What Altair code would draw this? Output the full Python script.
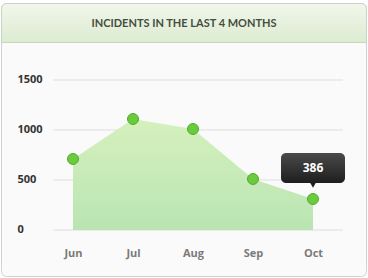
import altair as alt
import pandas as pd

months = ["Jun", "Jul", "Aug", "Sep", "Oct"]
incidents = [710, 1110, 1010, 510, 310]
y_ticks = [0, 500, 1000, 1500]
callout_month = ["Oct"]
callout_value = [310]
callout_label = ["386"]
title_text = "INCIDENTS IN THE LAST 4 MONTHS"

df = pd.DataFrame({"month": months, "value": incidents})
grid_df = pd.DataFrame({"tick": y_ticks})
call_df = pd.DataFrame({"month": callout_month, "value": callout_value, "label": callout_label})

W, H = 300, 170
PL, PT = 43, 60

xscale = alt.Scale(type="point", domain=months, padding=0.5)
yscale = alt.Scale(domain=[0, 1700], nice=False)

# card background and header (positioned relative to plot origin)
card = alt.Chart(pd.DataFrame({"a": [0]})).mark_rect(
    fill="#fafafa", stroke="#d2d2d2", strokeWidth=1, cornerRadius=5
).encode(
    x=alt.value(1.5 - PL), x2=alt.value(366.5 - PL),
    y=alt.value(3.5 - PT), y2=alt.value(276.5 - PT),
)
header = alt.Chart(pd.DataFrame({"a": [0]})).mark_rect(
    fill=alt.Gradient(gradient="linear", x1=0, x2=0, y1=0, y2=1,
                      stops=[alt.GradientStop(offset=0, color="#f1f7ec"),
                             alt.GradientStop(offset=1, color="#dcebd0")]),
    stroke="#c9d3c1", strokeWidth=1,
    cornerRadiusTopLeft=5, cornerRadiusTopRight=5,
).encode(
    x=alt.value(1.5 - PL), x2=alt.value(366.5 - PL),
    y=alt.value(3.5 - PT), y2=alt.value(42.5 - PT),
)
title = alt.Chart(pd.DataFrame({"t": [title_text]})).mark_text(
    font="Lato", fontWeight="bold", fontSize=11,
    color="#474d40", align="center", baseline="middle"
).encode(
    x=alt.value(184 - PL), y=alt.value(24 - PT), text="t:N"
)

grid = alt.Chart(grid_df).mark_rule(color="#dedede", strokeWidth=1).encode(
    y=alt.Y("tick:Q", scale=yscale, axis=alt.Axis(
        values=y_ticks, format="d", grid=False, domain=False, ticks=False, zindex=2,
        labelAlign="left", labelPadding=26, labelFontSize=11,
        labelFont="Open Sans", labelFontWeight="bold", labelColor="#333333",
        labelBaseline="middle", labelOffset=-1, title=None)),
    x=alt.value(10), x2=alt.value(W),
)

area = alt.Chart(df).mark_area(
    fill=alt.Gradient(gradient="linear", x1=0, x2=0, y1=0, y2=1,
                      stops=[alt.GradientStop(offset=0, color="#d5f0bd"),
                             alt.GradientStop(offset=1, color="#b9e5b3")]),
    opacity=1,
).encode(
    x=alt.X("month:N", scale=xscale, sort=months, axis=alt.Axis(
        domain=False, ticks=False, grid=False, labelAngle=0, labelPadding=17,
        labelFontSize=11, labelFont="Open Sans", labelFontWeight="bold", zindex=2,
        labelColor="#7a7a7a", title=None)),
    y=alt.Y("value:Q", scale=yscale),
)

points = alt.Chart(df).mark_point(
    filled=True, fill="#6acb3c", stroke="#4fa82c", strokeWidth=1, size=120, opacity=1
).encode(
    x=alt.X("month:N", scale=xscale, sort=months),
    y=alt.Y("value:Q", scale=yscale),
)

box = alt.Chart(call_df).mark_rect(
    fill=alt.Gradient(gradient="linear", x1=0, x2=0, y1=0, y2=1,
                      stops=[alt.GradientStop(offset=0, color="#4a4a4a"),
                             alt.GradientStop(offset=1, color="#1e1e1e")]),
    cornerRadius=5,
    xOffset=-32, x2Offset=32, yOffset=-46, y2Offset=-16,
).encode(
    x=alt.X("month:N", scale=xscale, sort=months),
    x2="month:N",
    y=alt.Y("value:Q", scale=yscale),
    y2="value:Q",
)
pointer = alt.Chart(call_df).mark_point(
    shape="triangle-down", filled=True, fill="#1e1e1e", opacity=1, size=40, yOffset=-14
).encode(
    x=alt.X("month:N", scale=xscale, sort=months),
    y=alt.Y("value:Q", scale=yscale),
)
label = alt.Chart(call_df).mark_text(
    color="white", font="Open Sans", fontWeight="bold", fontSize=12,
    baseline="middle", yOffset=-31
).encode(
    x=alt.X("month:N", scale=xscale, sort=months),
    y=alt.Y("value:Q", scale=yscale),
    text="label:N",
)

chart = alt.layer(card, header, title, grid, area, points, box, pointer, label).properties(
    width=W, height=H,
    autosize=alt.AutoSizeParams(type="none"),
    padding={"left": PL, "top": PT, "right": 368 - PL - W, "bottom": 278 - PT - H},
    background="white",
).configure_view(stroke=None)

chart.save("out.html", embed_options={"renderer": "svg", "actions": False})
